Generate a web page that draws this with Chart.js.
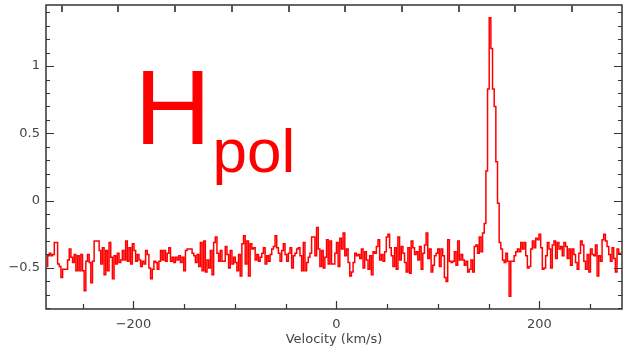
<!DOCTYPE html>
<html>
<head>
<meta charset="utf-8">
<script src="https://cdn.jsdelivr.net/npm/chart.js@4.4.1/dist/chart.umd.min.js"></script>
<style>
  html, body { margin: 0; padding: 0; background: #fff; }
  #wrap { width: 623px; height: 349px; position: relative; }
</style>
</head>
<body>
<div id="wrap"><canvas id="spectre"></canvas></div>
<script>
const velMin = -286.2;
const velMax = 281.3;
const fluxMin = -0.805;
const fluxMax = 1.454;

// Tick labels
const xTickLabels = [-200, 0, 200];
const yTickLabels = [-0.5, 0, 0.5, 1];

// Spectrum, one value per channel, left to right
const intensity = [
  -0.49,-0.41,-0.39,-0.41,-0.40,-0.31,-0.31,-0.47,-0.49,-0.57,
  -0.51,-0.51,-0.51,-0.44,-0.36,-0.42,-0.46,-0.40,-0.52,-0.41,
  -0.52,-0.40,-0.52,-0.67,-0.45,-0.40,-0.46,-0.61,-0.45,-0.30,
  -0.30,-0.30,-0.37,-0.47,-0.35,-0.55,-0.37,-0.52,-0.31,-0.42,
  -0.58,-0.41,-0.47,-0.39,-0.46,-0.44,-0.37,-0.44,-0.30,-0.45,
  -0.35,-0.47,-0.32,-0.37,-0.45,-0.40,-0.44,-0.49,-0.45,-0.47,
  -0.37,-0.40,-0.50,-0.58,-0.51,-0.45,-0.46,-0.51,-0.45,-0.37,
  -0.44,-0.37,-0.45,-0.39,-0.35,-0.45,-0.42,-0.46,-0.42,-0.44,
  -0.41,-0.46,-0.42,-0.52,-0.37,-0.36,-0.36,
  -0.36,-0.39,-0.41,-0.46,-0.40,-0.49,-0.31,-0.52,-0.30,-0.53,
  -0.44,-0.50,-0.37,-0.55,-0.31,-0.27,-0.39,-0.45,-0.37,-0.45,
  -0.45,-0.34,-0.40,-0.50,-0.37,-0.47,-0.42,-0.46,-0.52,-0.40,
  -0.56,-0.32,-0.26,-0.47,-0.30,-0.56,-0.32,-0.36,-0.35,-0.44,
  -0.40,-0.45,-0.42,-0.39,-0.35,-0.47,-0.41,-0.45,-0.40,-0.36,
  -0.34,-0.26,-0.35,-0.39,-0.45,-0.37,-0.32,-0.40,-0.45,-0.39,
  -0.35,-0.50,-0.41,-0.39,-0.36,-0.35,-0.41,-0.52,-0.31,-0.52,
  -0.46,-0.42,-0.39,-0.27,-0.27,-0.41,-0.20,-0.36,-0.49,-0.37,
  -0.50,-0.42,-0.29,-0.47,-0.30,-0.47,-0.47,
  -0.39,-0.31,-0.49,-0.28,-0.36,-0.24,-0.41,-0.36,-0.46,-0.56,
  -0.53,-0.46,-0.39,-0.41,-0.40,-0.43,-0.36,-0.50,-0.38,-0.44,
  -0.51,-0.41,-0.55,-0.38,-0.39,-0.34,-0.29,-0.44,-0.40,-0.45,
  -0.38,-0.27,-0.25,-0.35,-0.41,-0.49,-0.35,-0.51,-0.27,-0.44,
  -0.34,-0.39,-0.46,-0.53,-0.35,-0.54,-0.30,-0.35,-0.40,-0.38,
  -0.44,-0.34,-0.51,-0.39,-0.33,-0.24,-0.43,-0.36,-0.53,-0.48,
  -0.41,-0.39,-0.36,-0.49,-0.36,-0.41,-0.57,-0.60,-0.29,-0.45,
  -0.46,-0.45,-0.38,-0.48,-0.30,-0.44,-0.40,-0.44,-0.48,-0.45,
  -0.53,-0.51,-0.44,-0.53,-0.34,-0.33,-0.39,-0.27,-0.38,-0.24,
  -0.17,
  0.22, 0.83, 1.36, 1.13, 0.83, 0.70, 0.29,-0.02,
  -0.31,-0.36,-0.44,-0.46,-0.39,-0.45,-0.71,-0.45,-0.45,-0.41,
  -0.38,-0.36,-0.38,-0.31,-0.36,-0.31,-0.41,-0.50,-0.49,-0.36,
  -0.30,-0.35,-0.28,-0.29,-0.25,-0.35,-0.51,-0.50,-0.41,-0.31,
  -0.36,-0.50,-0.33,-0.30,-0.43,-0.31,-0.36,-0.34,-0.41,-0.31,
  -0.34,-0.43,-0.36,-0.48,-0.36,-0.40,-0.46,-0.51,-0.39,-0.30,
  -0.33,-0.45,-0.51,-0.40,-0.53,-0.36,-0.40,-0.41,-0.33,-0.56,
  -0.41,-0.45,-0.29,-0.25,-0.30,-0.34,-0.40,-0.45,-0.35,-0.43,
  -0.53,-0.36,-0.39,-0.39
];

// channel grid: channels fill the velocity window evenly
const largeurCanal = (velMax - velMin) / intensity.length;
const pontos = intensity.map((v, i) => ({ x: velMin + (i + 0.5) * largeurCanal, y: v }));

// top axis ticks (second axis, in km/s)
const topTickStart = -270.7;
const topTickStep = 55.86;

const corEixo = '#333';
const corTexto = '#444';

function menos(v) {
  const s = String(Math.abs(v));
  return v < 0 ? '\u2212' + s : s;
}

const cadrePlugin = {
  id: 'cadre',
  afterDraw(chart) {
    const ctx = chart.ctx;
    const a = chart.chartArea;
    const xs = chart.scales.x;
    const ys = chart.scales.y;
    ctx.save();
    ctx.strokeStyle = corEixo;
    ctx.lineWidth = 1.5;
    ctx.strokeRect(a.left, a.top, a.right - a.left, a.bottom - a.top);

    // left / right ticks every 0.1
    ctx.lineWidth = 1.2;
    for (let k = Math.ceil(fluxMin * 10); k <= Math.floor(fluxMax * 10); k++) {
      const y = Math.round(ys.getPixelForValue(k / 10)) + 0.5;
      const len = k % 5 === 0 ? 8 : 4;
      ctx.beginPath();
      ctx.moveTo(a.left, y); ctx.lineTo(a.left + len, y);
      ctx.moveTo(a.right, y); ctx.lineTo(a.right - len, y);
      ctx.stroke();
    }
    // bottom ticks every 50
    for (let k = Math.ceil(velMin / 50); k <= Math.floor(velMax / 50); k++) {
      const x = Math.round(xs.getPixelForValue(k * 50)) + 0.5;
      const len = k % 4 === 0 ? 8 : 5;
      ctx.beginPath();
      ctx.moveTo(x, a.bottom); ctx.lineTo(x, a.bottom - len);
      ctx.stroke();
    }
    // top ticks
    ctx.lineWidth = 2;
    ctx.strokeStyle = '#555';
    for (let v = topTickStart; v <= velMax; v += topTickStep) {
      const x = Math.round(xs.getPixelForValue(v));
      ctx.beginPath();
      ctx.moveTo(x, a.top); ctx.lineTo(x, a.top + 7);
      ctx.stroke();
    }

    // H_pol label
    ctx.fillStyle = '#ff0000';
    ctx.textBaseline = 'alphabetic';
    ctx.textAlign = 'left';
    ctx.font = '106px "Liberation Sans", Arial, sans-serif';
    ctx.fillText('H', 134.6, 144);
    ctx.font = '62px "Liberation Sans", Arial, sans-serif';
    ctx.fillText('pol', 212.6, 172);
    ctx.restore();
  }
};

const fonteTicks = { family: "'DejaVu Sans', sans-serif", size: 13 };

new Chart(document.getElementById('spectre'), {
  type: 'line',
  data: {
    datasets: [{
      data: pontos,
      borderColor: '#ff0000',
      borderWidth: 1.5,
      pointRadius: 0,
      stepped: 'middle',
      fill: false
    }]
  },
  options: {
    responsive: true,
    maintainAspectRatio: false,
    animation: false,
    events: [],
    layout: { padding: { top: 5, right: 1, left: 0, bottom: 0 } },
    plugins: { legend: { display: false }, tooltip: { enabled: false } },
    scales: {
      x: {
        type: 'linear',
        min: velMin,
        max: velMax,
        afterBuildTicks: s => { s.ticks = xTickLabels.map(v => ({ value: v })); },
        afterFit: s => { s.height = 40; s.paddingLeft = 0; s.paddingRight = 0; },
        grid: { display: false, drawTicks: false },
        border: { display: false },
        ticks: {
          color: corTexto,
          font: fonteTicks,
          padding: 8,
          maxRotation: 0,
          autoSkip: false,
          callback: v => menos(v)
        },
        title: {
          display: true,
          text: 'Velocity (km/s)',
          color: corTexto,
          font: fonteTicks,
          padding: { top: 0, bottom: 2 }
        }
      },
      y: {
        type: 'linear',
        min: fluxMin,
        max: fluxMax,
        afterBuildTicks: s => { s.ticks = yTickLabels.map(v => ({ value: v })); },
        afterFit: s => { s.width = 46; s.paddingTop = 0; s.paddingBottom = 0; },
        grid: { display: false, drawTicks: false },
        border: { display: false },
        ticks: {
          color: corTexto,
          font: fonteTicks,
          padding: 6,
          autoSkip: false,
          callback: v => menos(v)
        }
      }
    }
  },
  plugins: [cadrePlugin]
});
</script>
</body>
</html>
